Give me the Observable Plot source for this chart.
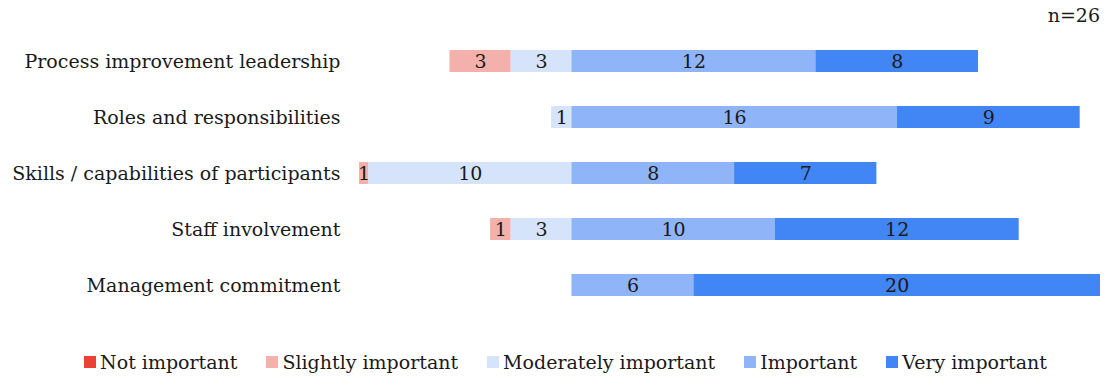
<!DOCTYPE html>
<html>
<head>
<meta charset="utf-8">
<script src="https://cdn.jsdelivr.net/npm/d3@7"></script>
<script src="https://cdn.jsdelivr.net/npm/@observablehq/plot@0.6"></script>
<style>
  body { margin: 0; background: #fff; font-family: "DejaVu Serif", serif; color: #1a1a1a; }
  #wrap { position: relative; width: 1107px; height: 376px; }
  #n { position: absolute; right: 7px; top: 4px; font-size: 19px; }
  #legend { position: absolute; left: 24px; top: 351px; width: 1083px; display: flex; justify-content: center; font-size: 19px; line-height: 22px; }
  .item { display: flex; align-items: center; margin: 0 14.5px; }
  .sw { width: 12px; height: 12px; margin-right: 4px; }
</style>
</head>
<body>
<div id="wrap">
  <div id="n">n=26</div>
  <div id="chart"></div>
  <div id="legend"></div>
</div>
<script>
const categories = ["Process improvement leadership", "Roles and responsibilities", "Skills / capabilities of participants", "Staff involvement", "Management commitment"];
const levels = ["Not important", "Slightly important", "Moderately important", "Important", "Very important"];
const colors = ["#ea4335", "#f4b0aa", "#d6e4fb", "#8fb5f8", "#4285f4"];
const notImportant = [0, 0, 0, 0, 0];
const slightlyImportant = [3, 0, 1, 1, 0];
const moderatelyImportant = [3, 1, 10, 3, 0];
const important = [12, 16, 8, 10, 6];
const veryImportant = [8, 9, 7, 12, 20];
const xDomain = [-10.45, 26];

const series = [notImportant, slightlyImportant, moderatelyImportant, important, veryImportant];
const rows = [];
categories.forEach((cat, i) => {
  let neg = 0;
  [2, 1, 0].forEach(k => {
    const v = series[k][i];
    rows.push({cat, level: levels[k], value: v, x1: -neg - v, x2: -neg});
    neg += v;
  });
  let pos = 0;
  [3, 4].forEach(k => {
    const v = series[k][i];
    rows.push({cat, level: levels[k], value: v, x1: pos, x2: pos + v});
    pos += v;
  });
});
const shown = rows.filter(d => d.value > 0);
shown.forEach(d => { d.xm = (Math.max(d.x1, xDomain[0]) + Math.min(d.x2, xDomain[1])) / 2; });

const chart = Plot.plot({
  width: 1107,
  height: 332,
  marginTop: 15,
  marginBottom: 0,
  marginLeft: 359,
  marginRight: 7,
  style: {fontFamily: "DejaVu Serif, serif", fontSize: "19px", color: "#1a1a1a"},
  x: {domain: xDomain, axis: null},
  y: {domain: categories, padding: 0.6, label: null, tickSize: 0, tickPadding: 19},
  color: {domain: levels, range: colors},
  marks: [
    Plot.barX(shown, {y: "cat", x1: "x1", x2: "x2", fill: "level", clip: true}),
    Plot.text(shown, {y: "cat", x: "xm", text: "value", fill: "#1a1a1a", fontSize: 19})
  ]
});
document.getElementById("chart").appendChild(chart);

const legend = document.getElementById("legend");
levels.forEach((l, i) => {
  const it = document.createElement("div");
  it.className = "item";
  it.innerHTML = `<span class="sw" style="background:${colors[i]}"></span><span>${l}</span>`;
  legend.appendChild(it);
});
</script>
</body>
</html>
